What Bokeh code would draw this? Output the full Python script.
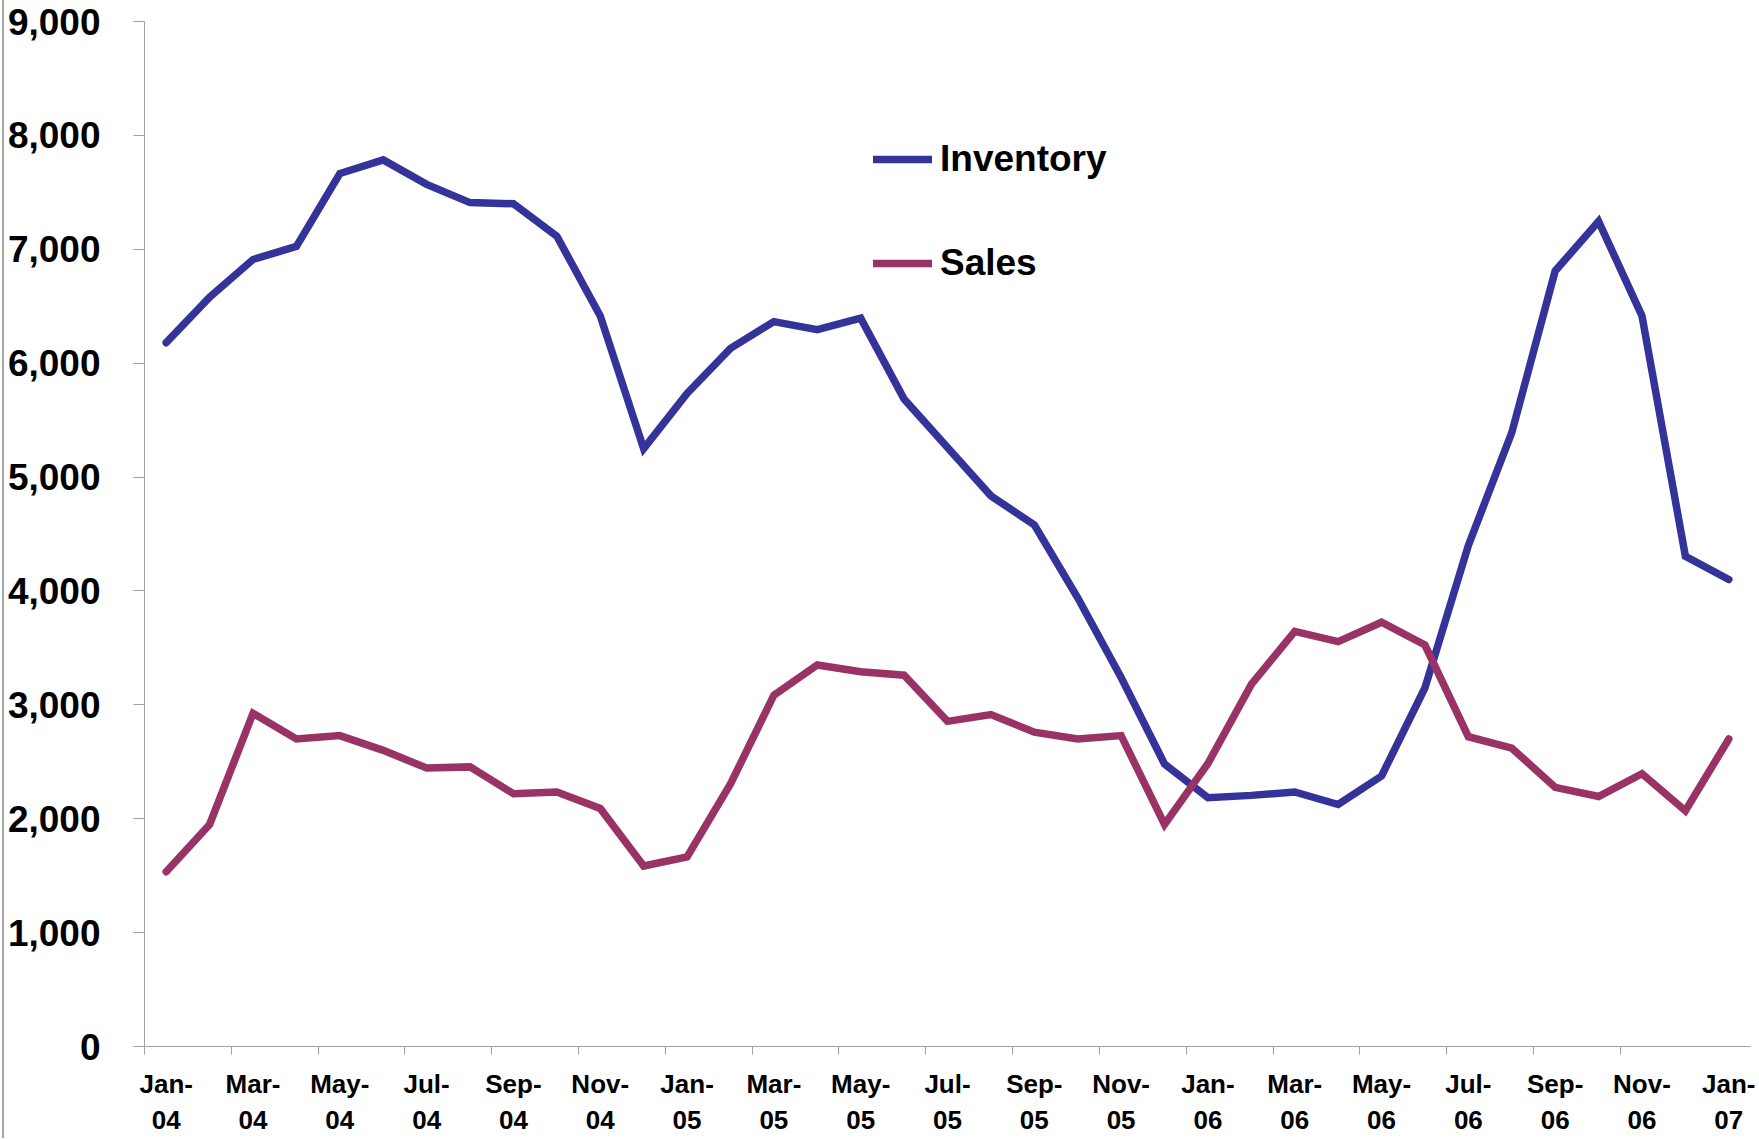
from bokeh.plotting import figure
from bokeh.models import FixedTicker, NumeralTickFormatter, Legend, LegendItem
from bokeh.embed import file_html
from bokeh.resources import INLINE

months = ["Jan-04", "Feb-04", "Mar-04", "Apr-04", "May-04", "Jun-04", "Jul-04", "Aug-04", "Sep-04",
          "Oct-04", "Nov-04", "Dec-04", "Jan-05", "Feb-05", "Mar-05", "Apr-05", "May-05", "Jun-05",
          "Jul-05", "Aug-05", "Sep-05", "Oct-05", "Nov-05", "Dec-05", "Jan-06", "Feb-06", "Mar-06",
          "Apr-06", "May-06", "Jun-06", "Jul-06", "Aug-06", "Sep-06", "Oct-06", "Nov-06", "Dec-06",
          "Jan-07"]

inventory = [6180, 6580, 6910, 7025, 7665, 7785, 7570, 7410, 7400, 7115, 6415, 5250,
             5735, 6130, 6365, 6295, 6395, 5685, 5260, 4835, 4580, 3940, 3240, 2480,
             2185, 2205, 2235, 2125, 2375, 3150, 4400, 5390, 6810, 7245, 6415, 4305,
             4100]

sales = [1535, 1950, 2925, 2700, 2730, 2600, 2445, 2455, 2220, 2235, 2090, 1585,
         1665, 2305, 3085, 3350, 3290, 3260, 2855, 2915, 2760, 2700, 2730, 1950,
         2485, 3180, 3645, 3555, 3725, 3525, 2720, 2620, 2275, 2195, 2395, 2070,
         2700]

y_ticks = [0, 1000, 2000, 3000, 4000, 5000, 6000, 7000, 8000, 9000]

x = list(range(len(months)))
label_idx = list(range(0, len(months), 2))
boundaries = [i - 0.5 for i in range(0, len(months) - 1, 2)]

FONT = "Liberation Sans"
AXIS_GRAY = "#a0a0a0"

p = figure(frame_width=1606, frame_height=1025, output_backend="svg", toolbar_location=None,
           x_range=(-0.5, len(months) - 0.5), y_range=(0, 9000),
           min_border_left=144, min_border_right=5, min_border_top=21, min_border_bottom=92)
p.outline_line_color = None
p.xgrid.visible = False
p.ygrid.visible = False
p.background_fill_color = "white"
p.border_fill_alpha = 0
# chart-area border visible at the left edge of the picture
p.styles = {"background-color": "white",
            "box-shadow": "inset 2px 0 0 0 #ffffff, inset 4px 0 0 0 #a6a6a6"}

r_inv = p.line(x, inventory, line_color="#333399", line_width=7.5, line_join="miter", line_cap="round")
r_sal = p.line(x, sales, line_color="#993366", line_width=7.5, line_join="miter", line_cap="round")

# y axis
ya = p.yaxis[0]
ya.ticker = FixedTicker(ticks=y_ticks)
ya.formatter = NumeralTickFormatter(format="0,0")
ya.axis_line_color = AXIS_GRAY
ya.major_tick_line_color = AXIS_GRAY
ya.major_tick_out = 11
ya.major_tick_in = 0
ya.minor_tick_line_color = None
ya.major_label_standoff = 33
ya.major_label_text_font = FONT
ya.major_label_text_font_style = "bold"
ya.major_label_text_font_size = "37px"
ya.major_label_text_color = "black"

# x axis
xa = p.xaxis[0]
xa.ticker = FixedTicker(ticks=label_idx, minor_ticks=boundaries)
xa.major_label_overrides = {i: months[i].replace("-", "-\n") for i in label_idx}
xa.axis_line_color = AXIS_GRAY
xa.major_tick_line_color = None
xa.major_tick_out = 0
xa.major_tick_in = 0
xa.minor_tick_line_color = AXIS_GRAY
xa.minor_tick_out = 8
xa.minor_tick_in = 0
xa.major_label_standoff = 14
xa.major_label_text_font = FONT
xa.major_label_text_font_style = "bold"
xa.major_label_text_font_size = "26px"
xa.major_label_text_color = "black"

legend = Legend(items=[LegendItem(label="Inventory", renderers=[r_inv]),
                       LegendItem(label="Sales", renderers=[r_sal])],
                location=(729, 761), orientation="vertical",
                border_line_color=None, background_fill_alpha=0,
                padding=0, margin=0, spacing=60,
                glyph_width=59, glyph_height=44, label_height=44, label_standoff=8,
                label_text_font=FONT, label_text_font_style="bold",
                label_text_font_size="37px", label_text_color="black")
p.add_layout(legend)

open("out.html", "w").write(file_html(p, INLINE))
